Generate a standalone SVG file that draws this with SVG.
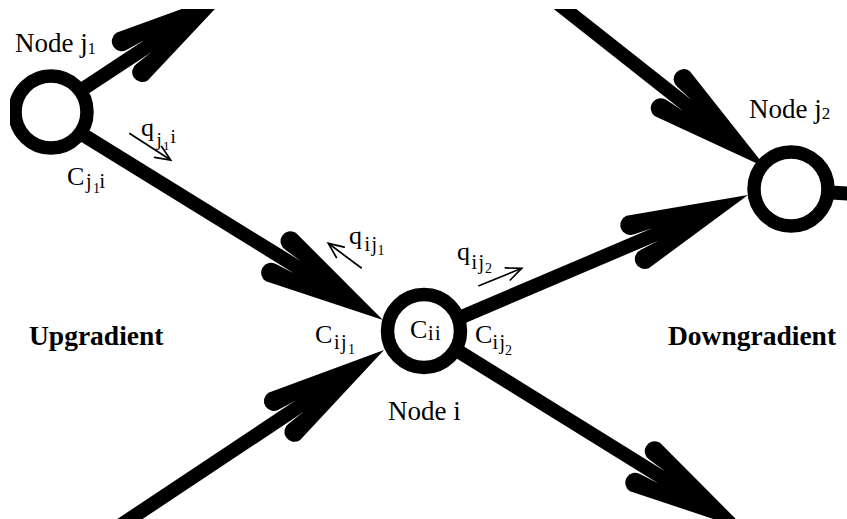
<svg xmlns="http://www.w3.org/2000/svg" width="847" height="519" viewBox="0 0 847 519">
<style>
  .shaft { fill: none; stroke: #000; stroke-width: 14; stroke-linecap: butt; marker-end: url(#ah); }
  .plain { fill: none; stroke: #000; stroke-width: 14; }
  .ring { fill: #fff; stroke: #000; stroke-width: 13.5; }
  .flow { fill: none; stroke: #000; stroke-width: 1.7; marker-end: url(#sa); }
  text { font-family: "Liberation Serif", "Times New Roman", serif; fill: #000; }
  .lab { font-size: 26px; }
  .node { font-size: 27px; }
  .sub { font-size: 20px; letter-spacing: 1.5px; }
  .ssub { font-size: 14px; }
  .big { font-size: 27.5px; font-weight: bold; }
</style>
<defs>
  <clipPath id="frame"><rect x="10" y="9" width="837" height="510"/></clipPath>
  <marker id="ah" markerUnits="userSpaceOnUse" orient="auto" viewBox="-130 -30 135 60" markerWidth="135" markerHeight="60" refX="-60" refY="0" overflow="visible">
    <path d="M0,0 L-120,-28.5 A10,10 0 0 0 -120,-8.5 L-102,-7 L-102,7 L-120,8.5 A10,10 0 0 0 -120,28.5 Z" fill="#000"/>
  </marker>
  <marker id="sa" markerUnits="userSpaceOnUse" orient="auto" viewBox="-18 -9 20 18" markerWidth="20" markerHeight="18" refX="0" refY="0" overflow="visible">
    <path d="M-15,-6.5 L0,0 L-15,6.5" fill="none" stroke="#000" stroke-width="1.7" stroke-linecap="round" stroke-linejoin="miter"/>
  </marker>
</defs>
<g clip-path="url(#frame)">
  <g id="connectors">
    <path class="shaft" d="M51,115 L331.9,288.5"/>
    <path class="shaft" d="M51,110 L182.1,23.6"/>
    <path class="shaft" d="M549.3,-3.4 L719.3,130.8"/>
    <path class="shaft" d="M424,333 L692.8,218.5"/>
    <path class="shaft" d="M424,330 L696,498.6"/>
    <path class="shaft" d="M113.4,530 L334.1,383.2"/>
    <path class="plain" d="M791,190 L855,194"/>
  </g>
  <g id="node-j1">
    <circle class="ring" cx="51" cy="112" r="36"/>
    <text class="node" x="15" y="52">Node j<tspan font-size="16" dy="2">1</tspan></text>
    <text class="lab" x="67" y="185">C<tspan class="sub" x="86" y="188">j</tspan><tspan class="ssub" x="93" y="193">1</tspan><tspan class="sub" x="99.5" y="188">i</tspan></text>
  </g>
  <g id="node-i">
    <circle class="ring" cx="424" cy="331" r="36.5"/>
    <text class="lab" x="410" y="338">C<tspan class="sub" x="428" y="340">ii</tspan></text>
    <text class="node" x="388" y="420">Node i</text>
    <text class="lab" x="315" y="343">C<tspan class="sub" x="334" y="349">ij</tspan><tspan class="ssub" x="348" y="354">1</tspan></text>
    <text class="lab" x="475" y="343">C<tspan class="sub" x="492.5" y="349">ij</tspan><tspan class="ssub" x="505" y="355" font-size="15">2</tspan></text>
  </g>
  <g id="node-j2">
    <circle class="ring" cx="791" cy="189" r="37"/>
    <text class="node" x="749" y="118">Node j<tspan font-size="17" dy="1">2</tspan></text>
  </g>
  <g id="flow-labels">
    <path class="flow" d="M129.3,133.3 L170.7,160"/>
    <text class="lab" x="141" y="136">q<tspan font-size="19" x="156.5" y="146">j</tspan><tspan font-size="13" x="163" y="149.5">1</tspan><tspan font-size="19" x="170.5" y="143">i</tspan></text>
    <path class="flow" d="M361.7,268.3 L328.3,243.3"/>
    <text class="lab" x="349" y="244">q<tspan class="sub" x="364.5" y="251">ij</tspan><tspan class="ssub" x="377.5" y="255">1</tspan></text>
    <path class="flow" d="M478.3,286 L521.7,268.3"/>
    <text class="lab" x="457" y="260">q<tspan class="sub" x="471.5" y="268.5">ij</tspan><tspan class="ssub" x="485" y="273" font-size="15">2</tspan></text>
  </g>
  <g id="regions">
    <text class="big" x="29" y="345">Upgradient</text>
    <text class="big" x="668" y="345">Downgradient</text>
  </g>
</g>
</svg>
